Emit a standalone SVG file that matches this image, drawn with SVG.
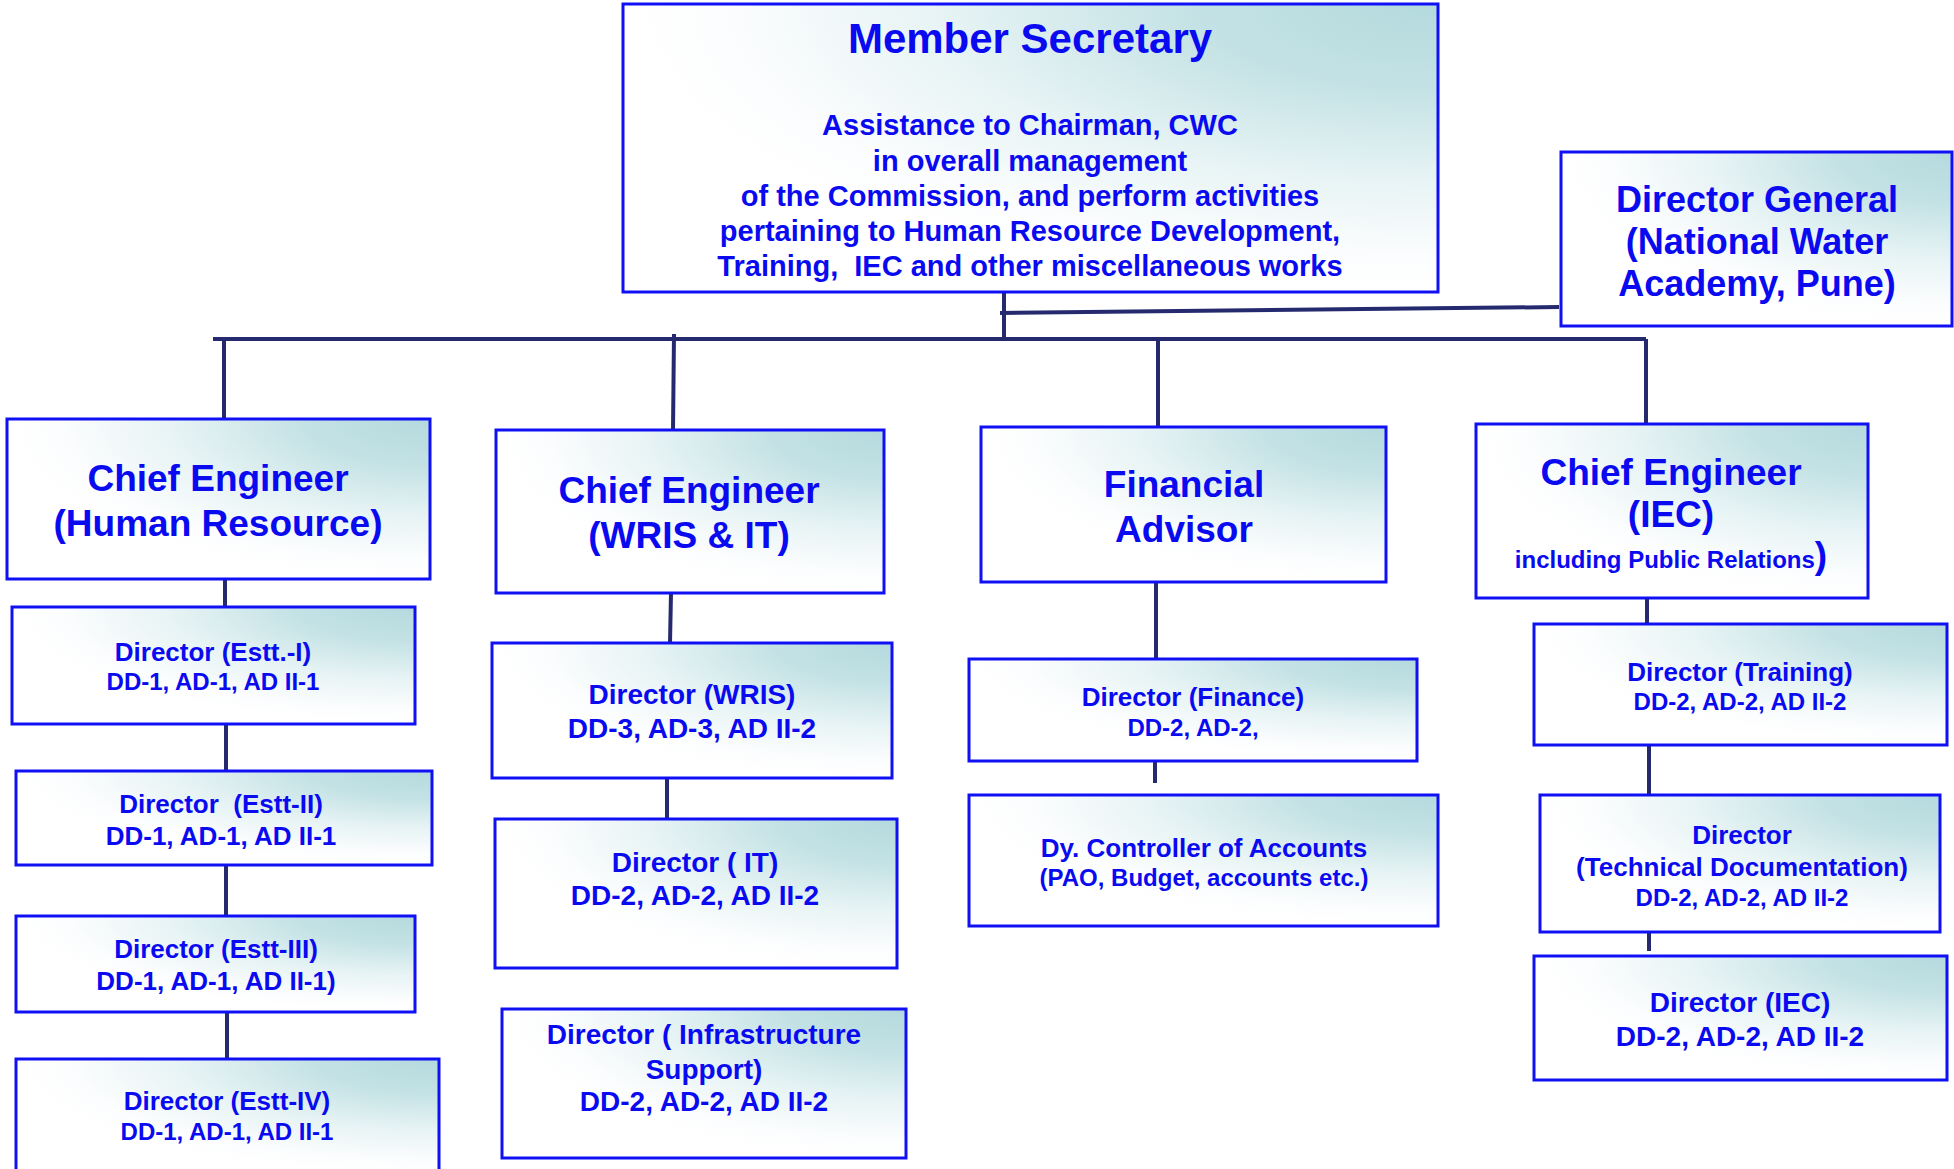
<svg xmlns="http://www.w3.org/2000/svg" width="1954" height="1169" viewBox="0 0 1954 1169">
  <defs>
    <radialGradient id="boxFill" cx="1" cy="0" r="1" fx="1" fy="0">
      <stop offset="0" stop-color="#b4dadd"/>
      <stop offset="0.3" stop-color="#c4e2e5"/>
      <stop offset="0.6" stop-color="#e6f3f4"/>
      <stop offset="0.88" stop-color="#fcfdfe"/>
      <stop offset="1" stop-color="#ffffff"/>
    </radialGradient>
  </defs>
  <style>
    .box { fill: url(#boxFill); stroke: #1010f5; stroke-width: 3; }
    .link { stroke: #252a6e; stroke-width: 4; fill: none; }
    text { font-family: "Liberation Sans", Arial, sans-serif; font-weight: bold; fill: #0a0af0; text-anchor: middle; }
    .t42 { font-size: 42px; }
    .t37 { font-size: 37px; }
    .t36 { font-size: 36px; }
    .t29 { font-size: 29px; }
    .t28 { font-size: 28px; }
    .t26 { font-size: 26px; }
    .t24 { font-size: 24px; }
  </style>
  <rect width="1954" height="1169" fill="#ffffff"/>

  <!-- connectors -->
  <g id="connectors">
    <line class="link" x1="1004" y1="292" x2="1004" y2="341"/>
    <line class="link" x1="1559" y1="307" x2="1000" y2="313"/>
    <line class="link" x1="213" y1="339" x2="1646" y2="339"/>
    <line class="link" x1="224" y1="339" x2="224" y2="419"/>
    <line class="link" x1="674" y1="334" x2="673" y2="430"/>
    <line class="link" x1="1158" y1="339" x2="1158" y2="427"/>
    <line class="link" x1="1646" y1="339" x2="1646" y2="424"/>
    <!-- Human Resource column -->
    <line class="link" x1="225" y1="579" x2="225" y2="607"/>
    <line class="link" x1="226" y1="724" x2="226" y2="771"/>
    <line class="link" x1="226" y1="865" x2="226" y2="916"/>
    <line class="link" x1="227" y1="1012" x2="227" y2="1059"/>
    <!-- WRIS & IT column -->
    <line class="link" x1="671" y1="593" x2="670" y2="643"/>
    <line class="link" x1="667" y1="778" x2="667" y2="819"/>
    <!-- Finance column -->
    <line class="link" x1="1156" y1="582" x2="1156" y2="659"/>
    <line class="link" x1="1155" y1="761" x2="1155" y2="783"/>
    <!-- IEC column -->
    <line class="link" x1="1647" y1="598" x2="1647" y2="624"/>
    <line class="link" x1="1649" y1="745" x2="1649" y2="795"/>
    <line class="link" x1="1649" y1="932" x2="1649" y2="951"/>
  </g>

  <g id="member-secretary">
    <rect class="box" x="623" y="4" width="815" height="288"/>
    <text class="t42" x="1030" y="53">Member Secretary</text>
    <text class="t29" x="1030" y="135">Assistance to Chairman, CWC</text>
    <text class="t29" x="1030" y="171">in overall management</text>
    <text class="t29" x="1030" y="206">of the Commission, and perform activities</text>
    <text class="t29" x="1030" y="241">pertaining to Human Resource Development,</text>
    <text class="t29" x="1030" y="276" xml:space="preserve">Training,  IEC and other miscellaneous works</text>
  </g>

  <g id="director-general">
    <rect class="box" x="1561" y="152" width="391" height="174"/>
    <text class="t36" x="1757" y="212">Director General</text>
    <text class="t36" x="1757" y="254">(National Water</text>
    <text class="t36" x="1757" y="296">Academy, Pune)</text>
  </g>

  <g id="ce-hr">
    <rect class="box" x="7" y="419" width="423" height="160"/>
    <text class="t37" x="218" y="491">Chief Engineer</text>
    <text class="t37" x="218" y="536">(Human Resource)</text>
  </g>

  <g id="dir-estt-1">
    <rect class="box" x="12" y="607" width="403" height="117"/>
    <text class="t26" x="213" y="661">Director (Estt.-I)</text>
    <text class="t24" x="213" y="690">DD-1, AD-1, AD II-1</text>
  </g>

  <g id="dir-estt-2">
    <rect class="box" x="16" y="771" width="416" height="94"/>
    <text class="t26" x="221" y="813" xml:space="preserve">Director  (Estt-II)</text>
    <text class="t26" x="221" y="845">DD-1, AD-1, AD II-1</text>
  </g>

  <g id="dir-estt-3">
    <rect class="box" x="16" y="916" width="399" height="96"/>
    <text class="t26" x="216" y="958">Director (Estt-III)</text>
    <text class="t26" x="216" y="990">DD-1, AD-1, AD II-1)</text>
  </g>

  <g id="dir-estt-4">
    <rect class="box" x="16" y="1059" width="423" height="116"/>
    <text class="t26" x="227" y="1110">Director (Estt-IV)</text>
    <text class="t24" x="227" y="1140">DD-1, AD-1, AD II-1</text>
  </g>

  <g id="ce-wris-it">
    <rect class="box" x="496" y="430" width="388" height="163"/>
    <text class="t37" x="689" y="503">Chief Engineer</text>
    <text class="t37" x="689" y="548">(WRIS &amp; IT)</text>
  </g>

  <g id="dir-wris">
    <rect class="box" x="492" y="643" width="400" height="135"/>
    <text class="t28" x="692" y="704">Director (WRIS)</text>
    <text class="t28" x="692" y="738">DD-3, AD-3, AD II-2</text>
  </g>

  <g id="dir-it">
    <rect class="box" x="495" y="819" width="402" height="149"/>
    <text class="t28" x="695" y="872">Director ( IT)</text>
    <text class="t28" x="695" y="905">DD-2, AD-2, AD II-2</text>
  </g>

  <g id="dir-infra">
    <rect class="box" x="502" y="1009" width="404" height="149"/>
    <text class="t28" x="704" y="1044">Director ( Infrastructure</text>
    <text class="t28" x="704" y="1079">Support)</text>
    <text class="t28" x="704" y="1111">DD-2, AD-2, AD II-2</text>
  </g>

  <g id="financial-advisor">
    <rect class="box" x="981" y="427" width="405" height="155"/>
    <text class="t37" x="1184" y="497">Financial</text>
    <text class="t37" x="1184" y="542">Advisor</text>
  </g>

  <g id="dir-finance">
    <rect class="box" x="969" y="659" width="448" height="102"/>
    <text class="t26" x="1193" y="706">Director (Finance)</text>
    <text class="t24" x="1193" y="736">DD-2, AD-2,</text>
  </g>

  <g id="dy-controller">
    <rect class="box" x="969" y="795" width="469" height="131"/>
    <text class="t26" x="1204" y="857">Dy. Controller of Accounts</text>
    <text class="t24" x="1204" y="886">(PAO, Budget, accounts etc.)</text>
  </g>

  <g id="ce-iec">
    <rect class="box" x="1476" y="424" width="392" height="174"/>
    <text class="t37" x="1671" y="485">Chief Engineer</text>
    <text class="t37" x="1671" y="527">(IEC)</text>
    <text class="t24" x="1671" y="568">including Public Relations<tspan class="t37">)</tspan></text>
  </g>

  <g id="dir-training">
    <rect class="box" x="1534" y="624" width="413" height="121"/>
    <text class="t26" x="1740" y="681">Director (Training)</text>
    <text class="t24" x="1740" y="710">DD-2, AD-2, AD II-2</text>
  </g>

  <g id="dir-tech-doc">
    <rect class="box" x="1540" y="795" width="400" height="137"/>
    <text class="t26" x="1742" y="844">Director</text>
    <text class="t26" x="1742" y="876">(Technical Documentation)</text>
    <text class="t24" x="1742" y="906">DD-2, AD-2, AD II-2</text>
  </g>

  <g id="dir-iec">
    <rect class="box" x="1534" y="956" width="413" height="124"/>
    <text class="t28" x="1740" y="1012">Director (IEC)</text>
    <text class="t28" x="1740" y="1046">DD-2, AD-2, AD II-2</text>
  </g>
</svg>
